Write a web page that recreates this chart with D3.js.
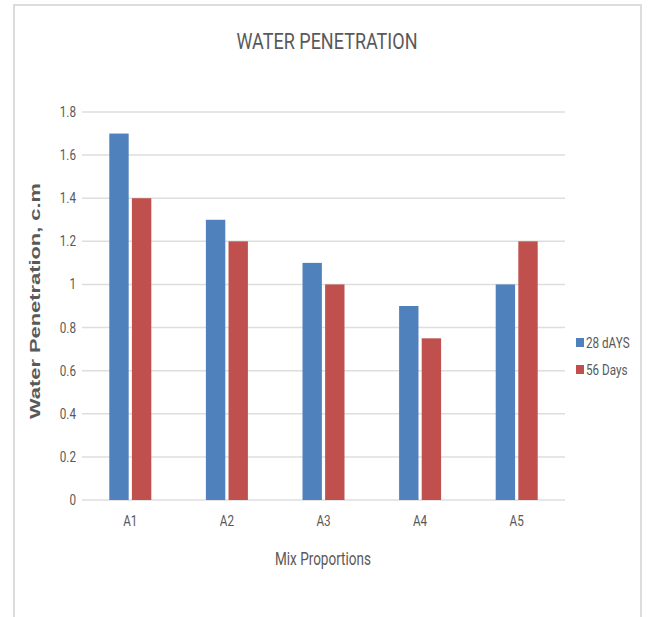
<!DOCTYPE html>
<html>
<head>
<meta charset="utf-8">
<script src="https://cdn.jsdelivr.net/npm/d3@7"></script>
<style>
  html, body { margin: 0; padding: 0; background: #fff; }
  svg { display: block; }
</style>
</head>
<body>
<svg id="chart" width="648" height="617"></svg>
<script>
// Mix proportions and measured water penetration (cm)
const categories = ["A1", "A2", "A3", "A4", "A5"];
const days28 = [1.7, 1.3, 1.1, 0.9, 1.0];
const days56 = [1.4, 1.2, 1.0, 0.75, 1.2];
const seriesNames = ["28 dAYS", "56 Days"];
const seriesColors = ["#4f81bd", "#c0504d"];
const yTicks = [0, 0.2, 0.4, 0.6, 0.8, 1, 1.2, 1.4, 1.6, 1.8];

const svg = d3.select("#chart");
const W = 648, H = 617;
const plot = { left: 82, right: 565, top: 112, bottom: 500 };
const condensed = (cx) => `translate(${cx},0) scale(0.78,1) translate(${-cx},0)`;

// Outer frame (open at the bottom)
svg.append("path")
  .attr("d", `M14,${H} L14,5 L641,5 L641,${H}`)
  .attr("fill", "none")
  .attr("stroke", "#dcdcdc")
  .attr("stroke-width", 2);

const x = d3.scaleBand().domain(categories).range([plot.left, plot.right]);
const y = d3.scaleLinear().domain([0, 1.8]).range([plot.bottom, plot.top]);

// Horizontal gridlines
svg.append("g")
  .selectAll("line")
  .data(yTicks)
  .join("line")
  .attr("x1", plot.left).attr("x2", plot.right)
  .attr("y1", d => y(d)).attr("y2", d => y(d))
  .attr("stroke", "#dedede")
  .attr("stroke-width", 1.5);

// Y tick labels
svg.append("g")
  .selectAll("text")
  .data(yTicks)
  .join("text")
  .attr("x", 76)
  .attr("y", d => y(d) + 5)
  .attr("text-anchor", "end")
  .attr("font-family", "Roboto, sans-serif")
  .attr("font-size", 15)
  .attr("fill", "#595959")
  .attr("transform", condensed(76))
  .text(d => String(d));

// Bars
const barW = 18, gap = 6;
const series = [days28, days56];
const sub = d3.scaleBand().domain([0, 1]).range([0, barW * 2 + gap]).paddingInner(gap / (barW * 2 + gap));

series.forEach((vals, si) => {
  svg.append("g")
    .selectAll("rect")
    .data(categories.map((c, i) => ({ c, v: vals[i] })))
    .join("rect")
    .attr("x", d => x(d.c) + x.bandwidth() / 2 - (barW * 2 + gap) / 2 + sub(si))
    .attr("y", d => y(d.v))
    .attr("width", sub.bandwidth())
    .attr("height", d => y(0) - y(d.v))
    .attr("fill", seriesColors[si]);
});

// X category labels
svg.append("g")
  .selectAll("text")
  .data(categories)
  .join("text")
  .attr("x", d => x(d) + x.bandwidth() / 2)
  .attr("y", 526)
  .attr("text-anchor", "middle")
  .attr("font-family", "Roboto, sans-serif")
  .attr("font-size", 15)
  .attr("fill", "#595959")
  .attr("transform", d => condensed(x(d) + x.bandwidth() / 2))
  .text(d => d);

// Title
svg.append("text")
  .attr("x", 327).attr("y", 49)
  .attr("text-anchor", "middle")
  .attr("font-family", "Roboto, sans-serif")
  .attr("font-size", 22)
  .attr("fill", "#595959")
  .attr("textLength", 181)
  .attr("lengthAdjust", "spacingAndGlyphs")
  .text("WATER PENETRATION");

// X axis title
svg.append("text")
  .attr("x", 323).attr("y", 565)
  .attr("text-anchor", "middle")
  .attr("font-family", "Roboto, sans-serif")
  .attr("font-size", 18)
  .attr("fill", "#595959")
  .attr("textLength", 96)
  .attr("lengthAdjust", "spacingAndGlyphs")
  .text("Mix Proportions");

// Y axis title
svg.append("text")
  .attr("transform", "translate(40,301) rotate(-90)")
  .attr("text-anchor", "middle")
  .attr("font-family", "'Liberation Sans', Arial, sans-serif")
  .attr("font-weight", "bold")
  .attr("font-size", 15.5)
  .attr("fill", "#595959")
  .attr("textLength", 236)
  .attr("lengthAdjust", "spacingAndGlyphs")
  .text("Water Penetration, c.m");

// Legend
const legend = svg.append("g");
seriesNames.forEach((name, i) => {
  const ly = 338 + i * 27;
  legend.append("rect")
    .attr("x", 576).attr("y", ly)
    .attr("width", 8).attr("height", 9)
    .attr("fill", seriesColors[i]);
  legend.append("text")
    .attr("x", 586).attr("y", ly + 10)
    .attr("font-family", "Roboto, sans-serif")
    .attr("font-size", 15)
    .attr("fill", "#595959")
    .attr("transform", condensed(586))
    .text(name);
});
</script>
</body>
</html>
